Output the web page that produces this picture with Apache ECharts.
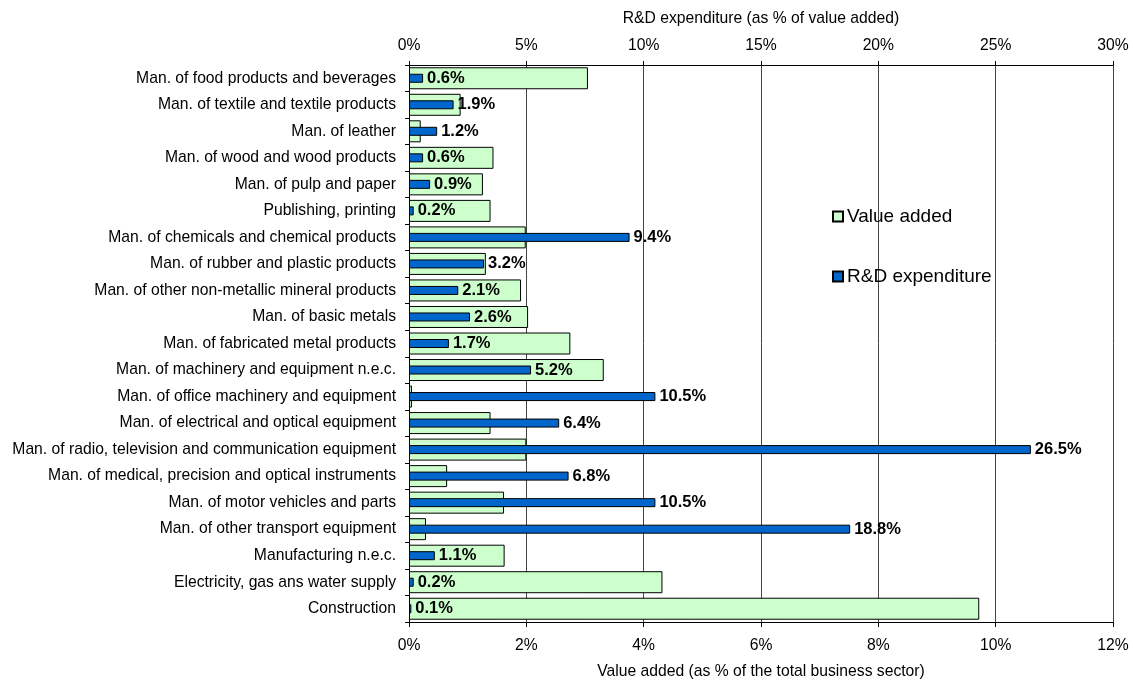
<!DOCTYPE html>
<html>
<head>
<meta charset="utf-8">
<script src="https://cdn.jsdelivr.net/npm/echarts@6/dist/echarts.min.js"></script>
<style>
  html, body { margin: 0; padding: 0; background: #fff; }
  #chart { width: 1133px; height: 682px; }
</style>
</head>
<body>
<div id="chart"></div>
<script>
// Industry sectors, top to bottom
const categories = [
  'Man. of food products and beverages',
  'Man. of textile and textile products',
  'Man. of leather',
  'Man. of wood and wood products',
  'Man. of pulp and paper',
  'Publishing, printing',
  'Man. of chemicals and chemical products',
  'Man. of rubber and plastic products',
  'Man. of other non-metallic mineral products',
  'Man. of basic metals',
  'Man. of fabricated metal products',
  'Man. of machinery and equipment n.e.c.',
  'Man. of office machinery and equipment',
  'Man. of electrical and optical equipment',
  'Man. of radio, television and communication equipment',
  'Man. of medical, precision and optical instruments',
  'Man. of motor vehicles and parts',
  'Man. of other transport equipment',
  'Manufacturing n.e.c.',
  'Electricity, gas ans water supply',
  'Construction'
];

// Value added, % of the total business sector (bottom axis)
const valueAdded = [
  3.05, 0.88, 0.20, 1.44, 1.26, 1.39, 1.99, 1.31, 1.91, 2.03, 2.75,
  3.32, 0.05, 1.39, 2.00, 0.65, 1.62, 0.29, 1.63, 4.32, 9.72
];

// R&D expenditure, % of value added (top axis)
const rdExpenditure = [
  0.6, 1.9, 1.2, 0.6, 0.9, 0.2, 9.4, 3.2, 2.1, 2.6, 1.7,
  5.2, 10.5, 6.4, 26.5, 6.8, 10.5, 18.8, 1.1, 0.2, 0.1
];

const seriesNames = ['Value added', 'R&D expenditure'];
const axisTitles = {
  top: 'R&D expenditure (as % of value added)',
  bottom: 'Value added (as % of the total business sector)'
};

const FONT = "'Liberation Sans', Arial, sans-serif";
const TEXT_SIZE = 15.7;
const chart = echarts.init(document.getElementById('chart'));

chart.setOption({
  animation: false,
  textStyle: { fontFamily: FONT, color: '#000' },
  grid: {
    left: 409, right: 20, top: 65, bottom: 60,
    containLabel: false,
    outerBoundsMode: 'none'
  },
  legend: {
    orient: 'vertical',
    left: 827,
    top: 202,
    itemGap: 41,
    itemWidth: 10,
    itemHeight: 10,
    icon: 'rect',
    textStyle: { fontFamily: FONT, fontSize: 19, color: '#000', padding: [0, 0, 0, -1] },
    data: seriesNames
  },
  xAxis: [
    {
      type: 'value',
      position: 'bottom',
      min: 0, max: 12, interval: 2,
      name: axisTitles.bottom,
      nameLocation: 'middle',
      nameGap: 42,
      nameTextStyle: { fontFamily: FONT, fontSize: TEXT_SIZE, color: '#000' },
      axisLine: { show: true, lineStyle: { color: '#000', width: 1 } },
      axisTick: { show: true, length: 5, lineStyle: { color: '#000' } },
      axisLabel: { formatter: '{value}%', fontFamily: FONT, fontSize: TEXT_SIZE, color: '#000', margin: 16 },
      splitLine: { show: true, lineStyle: { color: '#444', width: 1 } }
    },
    {
      type: 'value',
      position: 'top',
      min: 0, max: 30, interval: 5,
      name: axisTitles.top,
      nameLocation: 'middle',
      nameGap: 38,
      nameTextStyle: { fontFamily: FONT, fontSize: TEXT_SIZE, color: '#000' },
      axisLine: { show: true, lineStyle: { color: '#000', width: 1 } },
      axisTick: { show: true, length: 4, lineStyle: { color: '#000' } },
      axisLabel: { formatter: '{value}%', fontFamily: FONT, fontSize: TEXT_SIZE, color: '#000', margin: 11 },
      splitLine: { show: false }
    }
  ],
  yAxis: [
    {
      type: 'category',
      data: categories,
      inverse: true,
      axisLine: { show: true, lineStyle: { color: '#000', width: 1 } },
      axisTick: { show: true, length: 4, lineStyle: { color: '#000' } },
      axisLabel: { fontFamily: FONT, fontSize: TEXT_SIZE, color: '#000', margin: 13 },
      splitLine: { show: false }
    },
    {
      type: 'category',
      data: categories,
      inverse: true,
      show: false
    }
  ],
  series: [
    {
      name: seriesNames[0],
      type: 'bar',
      xAxisIndex: 0,
      yAxisIndex: 0,
      data: valueAdded,
      barWidth: 22,
      itemStyle: { color: '#CCFFCC', borderColor: '#000', borderWidth: 1 },
      z: 2
    },
    {
      name: seriesNames[1],
      type: 'bar',
      xAxisIndex: 1,
      yAxisIndex: 1,
      data: rdExpenditure,
      barWidth: 9,
      itemStyle: { color: '#0066CC', borderColor: '#000', borderWidth: 1 },
      label: {
        show: true,
        position: 'right',
        distance: 4,
        fontFamily: FONT,
        fontSize: 16.5,
        fontWeight: 'bold',
        color: '#000',
        formatter: p => p.value.toFixed(1) + '%'
      },
      z: 3
    }
  ]
});
</script>
</body>
</html>
